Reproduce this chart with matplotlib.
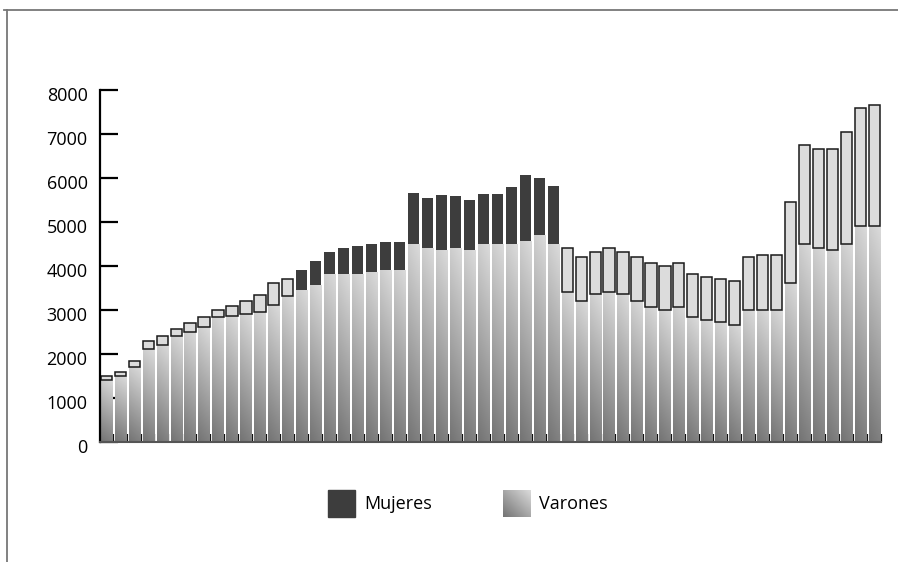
import numpy as np
import matplotlib
matplotlib.use("Agg")
import matplotlib.pyplot as plt
import matplotlib.transforms as mtransforms
from matplotlib.colors import LinearSegmentedColormap
from matplotlib.patches import Rectangle
from matplotlib.lines import Line2D

plt.rcParams['font.family'] = ['Open Sans', 'DejaVu Sans']

# valores (56 barras)
varones = [1420, 1500, 1710, 2110, 2210, 2420, 2510, 2610, 2830, 2860,
           2920, 2960, 3110, 3320, 3450, 3570, 3820, 3820, 3820, 3860,
           3910, 3910, 4500, 4410, 4360, 4410, 4360, 4500, 4500, 4500,
           4570, 4700, 4500, 3410, 3200, 3360, 3410, 3360, 3200, 3070,
           3010, 3070, 2830, 2780, 2720, 2660, 3010, 3010, 3010, 3610,
           4510, 4420, 4370, 4510, 4920, 4920]
mujeres = [80, 100, 140, 190, 190, 140, 190, 240, 180, 240,
           290, 390, 500, 390, 460, 540, 500, 590, 630, 640,
           640, 640, 1160, 1140, 1250, 1180, 1140, 1140, 1140, 1300,
           1500, 1300, 1320, 1000, 1000, 950, 990, 950, 1000, 1000,
           1000, 1000, 980, 970, 980, 990, 1190, 1250, 1250, 1840,
           2240, 2240, 2290, 2540, 2680, 2740]
yticks = [0, 1000, 2000, 3000, 4000, 5000, 6000, 7000, 8000]
series = ['Mujeres', 'Varones']

W, H = 898, 562
fig = plt.figure(figsize=(W / 100, H / 100), dpi=100)
ax = fig.add_axes([100 / W, (H - 442) / H, 781 / W, 352 / H])

cmap = LinearSegmentedColormap.from_list('gris', ['#747474', '#dadada'])
vv, uu = np.mgrid[1:0:64j, 0:1:8j]
grad = 0.88 * vv + 0.12 * uu

x = np.arange(len(varones))
ancho = 0.8
barras_v = ax.bar(x, varones, width=ancho, color='none', edgecolor='none', zorder=1)
for b in barras_v:
    x0 = b.get_x()
    im = ax.imshow(grad, extent=(x0, x0 + ancho, 0, b.get_height()), cmap=cmap,
                   vmin=0, vmax=1, aspect='auto', zorder=1, interpolation='bilinear')
    im.set_clip_path(b)

oscuro = [14 <= i <= 32 for i in x]
col_m = ['#3d3d3d' if o else '#dcdcdc' for o in oscuro]
borde_m = ['none' if o else '#1a1a1a' for o in oscuro]
ax.bar(x, mujeres, bottom=varones, width=ancho, color=col_m,
       edgecolor=borde_m, linewidth=1.1, zorder=2)

ax.set_xlim(-0.45, 55.47)
ax.set_ylim(0, 8000)
ax.set_axisbelow(True)
for s in ['top', 'right']:
    ax.spines[s].set_visible(False)
ax.spines['left'].set_color('black')
ax.spines['left'].set_linewidth(1.6)
ax.spines['bottom'].set_color('#555555')
ax.spines['bottom'].set_linewidth(1.5)

ax.set_yticks(yticks)
ax.set_yticklabels([str(v) for v in yticks])
ax.tick_params(axis='y', direction='in', length=13, width=1.6, color='black',
               labelsize=13, pad=9)
ax.set_xticks(x + 0.45)
ax.set_xticklabels([])
ax.tick_params(axis='x', direction='in', length=6, width=1.6, color='#111111')

off = mtransforms.ScaledTranslation(0, -4 / 100, fig.dpi_scale_trans)
for lbl in ax.get_yticklabels():
    lbl.set_transform(lbl.get_transform() + off)

# leyenda
fig.add_artist(Rectangle((328 / W, 1 - 517 / H), 27 / W, 27 / H,
                         transform=fig.transFigure, color='#3d3d3d'))
lax = fig.add_axes([503 / W, 1 - 517 / H, 28 / W, 27 / H])
vv2, uu2 = np.mgrid[1:0:32j, 0:1:32j]
lax.imshow(0.5 * vv2 + 0.5 * uu2, cmap=cmap, vmin=0, vmax=1, aspect='auto',
           interpolation='bilinear')
lax.axis('off')
fig.text(364 / W, 1 - 504 / H, series[0], va='center', fontsize=13)
fig.text(539 / W, 1 - 504 / H, series[1], va='center', fontsize=13)

# marco
fig.add_artist(Line2D([4 / W, 1], [1 - 9.5 / H] * 2, color='#777777', lw=1.3))
fig.add_artist(Line2D([7 / W] * 2, [0, 1 - 9.5 / H], color='#777777', lw=1.3))

fig.savefig('out.png', dpi=100)
